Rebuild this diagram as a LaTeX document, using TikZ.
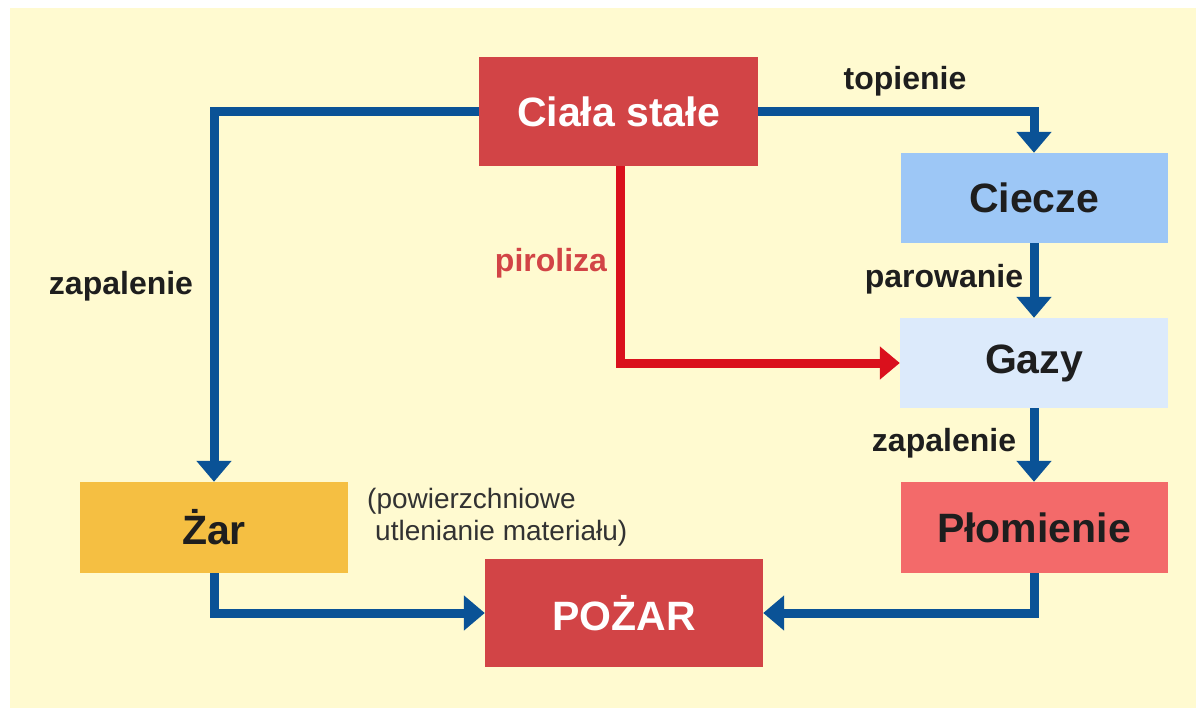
\documentclass[tikz,border=0pt]{standalone}
\usepackage{fontspec}
\setmainfont{Liberation Sans}
\usetikzlibrary{arrows.meta}
\definecolor{cream}{RGB}{255,250,208}
\definecolor{lineblue}{RGB}{10,82,150}
\definecolor{linered}{RGB}{218,16,28}
\definecolor{boxred}{RGB}{210,68,70}
\definecolor{boxblue}{RGB}{157,199,246}
\definecolor{boxpale}{RGB}{220,234,251}
\definecolor{boxsalmon}{RGB}{243,106,106}
\definecolor{boxamber}{RGB}{245,191,66}
\definecolor{txt}{RGB}{30,30,30}
\definecolor{notetxt}{RGB}{50,50,50}
\tikzset{
  box/.style={rectangle, inner sep=0pt, draw=none, font=\fontsize{41}{46}\selectfont\bfseries, text=txt},
  conn/.style={line width=9pt, color=lineblue, line join=miter, -{Triangle[width=34pt,length=21pt]}},
  pconn/.style={line width=9pt, color=linered, line join=miter, -{Triangle[width=32pt,length=20pt]}},
  lbl/.style={anchor=base, inner sep=0pt, font=\fontsize{32}{36}\selectfont\bfseries, text=txt},
  note/.style={anchor=base west, inner sep=0pt, font=\fontsize{28}{32}\selectfont, text=notetxt}
}
\begin{document}
\begin{tikzpicture}[x=1pt,y=-1pt]
\useasboundingbox (0,0) rectangle (1196,708);
\fill[white] (0,0) rectangle (1196,708);
\fill[cream] (10,8) rectangle (1196,708);

\node[box, fill=boxred, text=white, minimum width=279pt, minimum height=109pt] (ciala) at (618.5,111.5) {Ciała stałe};
\node[box, fill=boxblue, minimum width=267pt, minimum height=90pt] (ciecze) at (1034,198) {Ciecze};
\node[box, fill=boxpale, minimum width=268pt, minimum height=90pt] (gazy) at (1034,363) {Gazy};
\node[box, fill=boxsalmon, minimum width=267pt, minimum height=91pt] (plom) at (1034,527.5) {Płomienie};
\node[box, fill=boxamber, minimum width=268pt, minimum height=91pt] (zar) at (214,527.5) {Żar};
\node[box, fill=boxred, text=white, minimum width=278pt, minimum height=108pt] (pozar) at (624,613) {POŻAR};

\draw[conn] (ciala.west) -| (zar.north);
\draw[conn] (ciala.east) -| (ciecze.north);
\draw[conn] (ciecze.south) -- (gazy.north);
\draw[conn] (gazy.south) -- (plom.north);
\draw[conn] (zar.south) |- (pozar.west);
\draw[conn] (plom.south) |- (pozar.east);
\draw[pconn] ([xshift=1.5pt]ciala.south) |- (gazy.west);

\node[lbl] (ltop) at (905,90) {topienie};
\node[lbl] (lpar) at (944,288) {parowanie};
\node[lbl] (lzap1) at (121,295) {zapalenie};
\node[lbl] (lzap2) at (944,451) {zapalenie};
\node[lbl, text=boxred] (lpir) at (551,272) {piroliza};
\node[note] (n1) at (367,508) {(powierzchniowe};
\node[note] (n2) at (375,540) {utlenianie materiału)};
\end{tikzpicture}
\end{document}
